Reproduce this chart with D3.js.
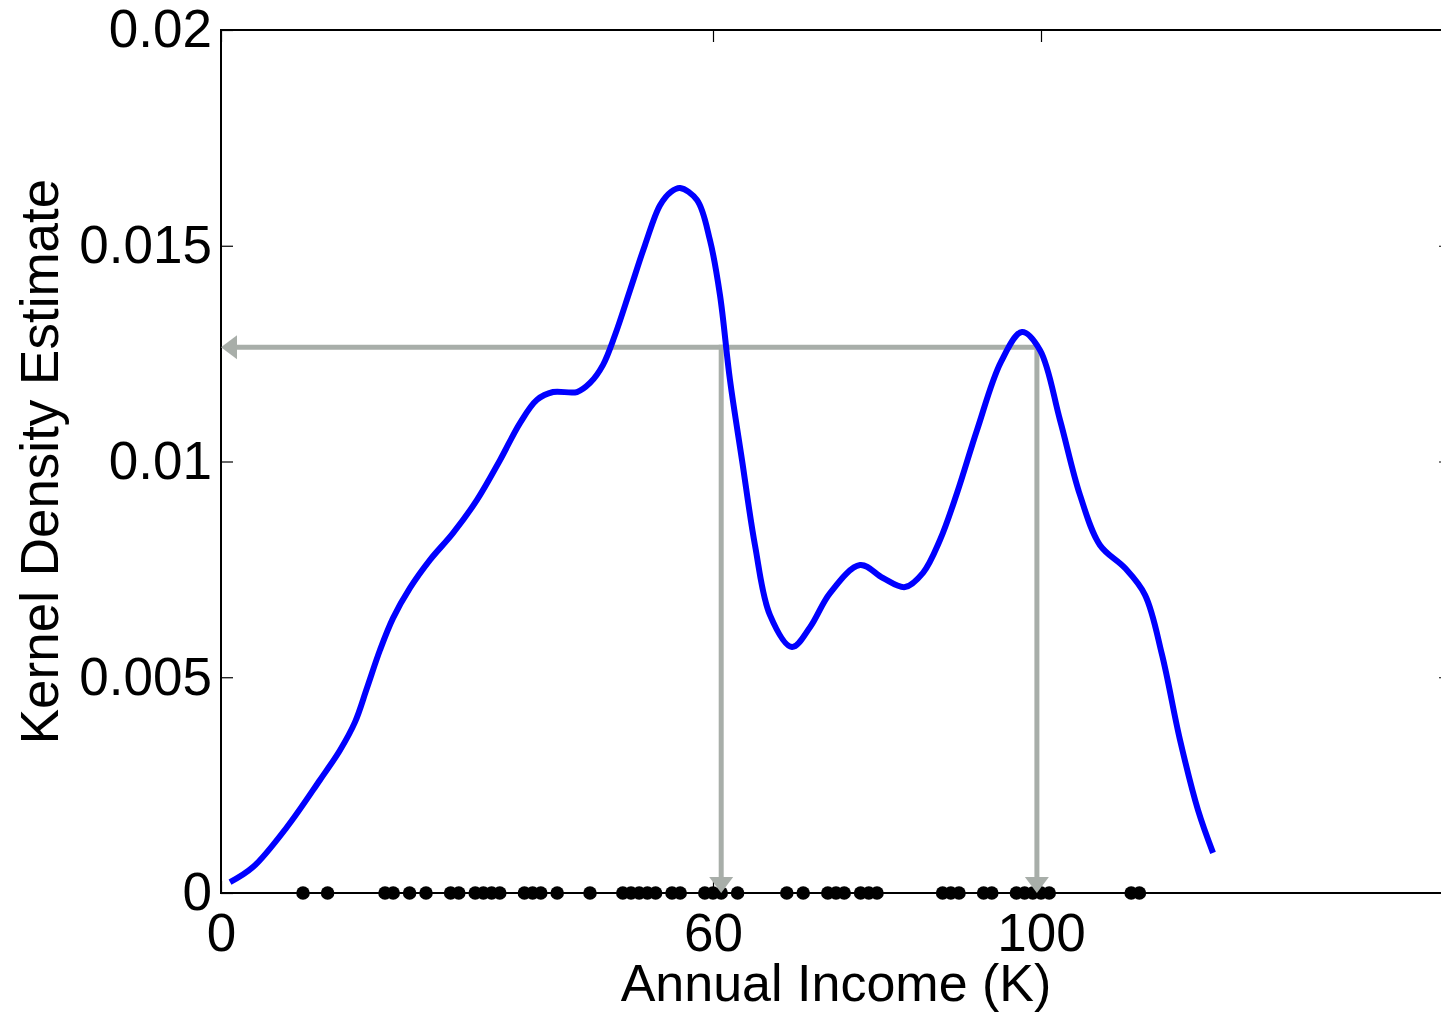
<!DOCTYPE html>
<html>
<head>
<meta charset="utf-8">
<script src="https://cdn.jsdelivr.net/npm/d3@7"></script>
<style>
  html, body { margin: 0; padding: 0; background: #fff; }
  svg { display: block; font-family: "Liberation Sans", Arial, Helvetica, sans-serif; }
</style>
</head>
<body>
<svg id="chart" width="1441" height="1013"></svg>
<script>
// incomes (K) marked along the x axis
const incomes = [10, 13, 20, 21, 23, 25, 28, 29, 31, 32, 33, 34, 37, 38, 39, 41, 45,
  49, 50, 51, 52, 53, 55, 56, 59, 60, 61, 63, 69, 71, 74, 75, 76, 78, 79, 80,
  88, 89, 90, 93, 94, 97, 98, 99, 100, 101, 111, 112];

// density curve
const curveX = [1.1, 3.9, 8.05, 12.07, 14.51, 16.34, 17.8, 19.39, 20.98, 23.05, 25.49,
  28.29, 31.22, 34.02, 36.46, 38.54, 40.49, 43.41, 45.0, 46.59, 48.05, 49.88, 51.71,
  53.54, 54.88, 55.98, 58.05, 59.63, 60.85, 62.07, 63.54, 65.12, 66.95, 69.63, 71.83, 74.27,
  77.93, 80.73, 83.41, 85.61, 87.68, 89.76, 92.2, 95.12, 97.68, 99.88, 102.32, 104.76,
  107.2, 110.24, 112.68, 114.76, 116.95, 119.15, 120.98];
const curveY = [0.00025, 0.0006, 0.00153, 0.00262, 0.00331, 0.00396, 0.00475, 0.00563,
  0.00637, 0.00707, 0.00772, 0.00834, 0.00911, 0.01003, 0.01089, 0.01143, 0.01161,
  0.01161, 0.01182, 0.01224, 0.01293, 0.01397, 0.01502, 0.01594, 0.01625, 0.01634, 0.01606,
  0.01513, 0.01386, 0.01189, 0.01003, 0.00806, 0.00644, 0.0057, 0.00616, 0.00695,
  0.0076, 0.0073, 0.00709, 0.00742, 0.00818, 0.00927, 0.01073, 0.01231, 0.013,
  0.01258, 0.01096, 0.00922, 0.00806, 0.00753, 0.00691, 0.00552, 0.00355, 0.00192,
  0.00093];

const xTicks = [0, 60, 100];
const yTicks = [0, 0.005, 0.01, 0.015, 0.02];

// the two incomes that share the same density
const markIncomes = [61, 99.5];
const markDensity = 0.01265;

const margin = { left: 221, top: 30, right: -10, bottom: 120 };
const width = 1441 - margin.left - margin.right;
const height = 1013 - margin.top - margin.bottom;

const svg = d3.select("#chart");
const g = svg.append("g")
  .attr("transform", "translate(" + margin.left + "," + margin.top + ")");

const x = d3.scaleLinear().domain([0, 150]).range([0, width]);
const y = d3.scaleLinear().domain([0, 0.02]).range([height, 0]);

// frame
g.append("rect")
  .attr("width", width).attr("height", height)
  .attr("fill", "none").attr("stroke", "#000").attr("stroke-width", 2);

// axes with inward ticks
const fontSize = 53;
g.append("g")
  .attr("transform", "translate(0," + height + ")")
  .call(d3.axisBottom(x).tickValues(xTicks).tickSizeInner(-12).tickSizeOuter(0).tickPadding(20));
g.append("g")
  .call(d3.axisLeft(y).tickValues(yTicks).tickSizeInner(-12).tickSizeOuter(0).tickPadding(9)
    .tickFormat(d => String(d)));
g.append("g")
  .call(d3.axisTop(x).tickValues(xTicks).tickSizeInner(-12).tickSizeOuter(0).tickFormat(""));
g.append("g")
  .attr("transform", "translate(" + width + ",0)")
  .call(d3.axisRight(y).tickValues(yTicks).tickSizeInner(-12).tickSizeOuter(0).tickFormat(""));

g.selectAll(".domain").remove();
g.selectAll(".tick line").attr("stroke", "#000").attr("stroke-width", 1.2);
g.selectAll(".tick text")
  .attr("font-size", fontSize)
  .attr("font-family", "Liberation Sans, Arial, sans-serif")
  .attr("fill", "#000");

// axis titles
g.append("text")
  .attr("x", width / 2).attr("y", height + 108)
  .attr("text-anchor", "middle")
  .attr("font-size", 52)
  .text("Annual Income (K)");

g.append("text")
  .attr("transform", "translate(" + (-163) + "," + (height / 2) + ") rotate(-90)")
  .attr("text-anchor", "middle")
  .attr("font-size", 53)
  .text("Kernel Density Estimate");

// data points along the x axis
g.append("g").selectAll("circle")
  .data(incomes)
  .enter()
  .append("circle")
  .attr("cx", d => x(d))
  .attr("cy", y(0))
  .attr("r", 6.8)
  .attr("fill", "#000");

// gray arrows
const gray = "#a8aea9";
const arrows = g.append("g");
const hy = y(markDensity);
arrows.append("line")
  .attr("x1", x(markIncomes[1])).attr("x2", x(0) + 14)
  .attr("y1", hy).attr("y2", hy)
  .attr("stroke", gray).attr("stroke-width", 5);
arrows.append("path")
  .attr("d", "M" + x(0) + "," + hy + "l16,-12l0,24z")
  .attr("fill", gray);
markIncomes.forEach(m => {
  arrows.append("line")
    .attr("x1", x(m)).attr("x2", x(m))
    .attr("y1", hy - 2.5).attr("y2", y(0) - 14)
    .attr("stroke", gray).attr("stroke-width", 5);
  arrows.append("path")
    .attr("d", "M" + x(m) + "," + y(0) + "l-12,-16l24,0z")
    .attr("fill", gray);
});

// density curve
const line = d3.line()
  .x((d, i) => x(curveX[i]))
  .y(d => y(d))
  .curve(d3.curveCatmullRom.alpha(0.5));
g.append("path")
  .datum(curveY)
  .attr("d", line)
  .attr("fill", "none")
  .attr("stroke", "#0000ff")
  .attr("stroke-width", 6);
</script>
</body>
</html>
